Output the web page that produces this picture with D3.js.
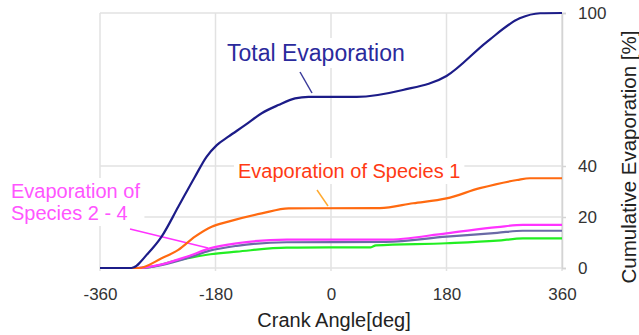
<!DOCTYPE html>
<html>
<head>
	<meta charset="utf-8">
	<title>Cumulative Evaporation</title>
	<script src="https://cdnjs.cloudflare.com/ajax/libs/d3/7.8.5/d3.min.js"></script>
	<style>
		body { margin: 0; background: #fff; }
		text { font-family: "Liberation Sans", Arial, sans-serif; }
	</style>
</head>
<body>
	<script type="text/javascript">

		// data: [crank angle, cumulative %]
		let total = [[-360,0],[-311,0],[-285,5.8],[-264,12.3],[-238,24],[-212,35.8],[-194,43.6],[-178,48.2],
			[-160,51.5],[-134,56],[-108,60.7],[-82,63.9],[-56,66.5],[-35,67.1],[40,67.1],[112,69.8],
			[180,75.3],[243,88.7],[294,97.9],[326,99.9],[360,100]];
		let species1 = [[-360,0],[-300,0],[-264,3.8],[-238,7.1],[-212,12.3],[-186,16.2],[-160,18.2],
			[-108,21.4],[-66,23.4],[76,23.5],[128,25.4],[180,27.3],[232,31.3],[290,34.5],[310,35.2],[360,35.2]];
		let species2 = [[-360,0],[-303,0],[-225,4.4],[-189,7.7],[-147,9.7],[-69,11.1],[85,11.1],
			[180,13.6],[259,16],[299,16.9],[360,16.9]];
		let species3 = [[-360,0],[-303,0],[-225,3.8],[-189,6.8],[-147,8.7],[-69,10.1],[85,10.2],
			[180,12.3],[259,13.8],[299,14.6],[360,14.6]];
		let species4 = [[-360,0],[-295,0],[-238,3.1],[-188,5.4],[-147,6.4],[-69,8.0],[62,8.1],[70,8.9],
			[180,9.7],[259,10.7],[299,11.6],[360,11.6]];

		let xTicks = [-360, -180, 0, 180, 360];
		let yTicks = [0, 20, 40, 100];

		let series = [
			{ data: species4, color: '#22ee22' },
			{ data: species3, color: '#6a6aa6' },
			{ data: species2, color: '#ff33ff' },
			{ data: species1, color: '#ff6a10' },
			{ data: total, color: '#1c1c88' }
		];

		let fontFam = '"Liberation Sans", Arial, sans-serif';

		let svg = d3.select('body').append('svg');
		svg.attr('width', 639);
		svg.attr('height', 335);

		let x = d3.scaleLinear().domain([-360, 360]).range([100, 562]);
		let y = d3.scaleLinear().domain([0, 100]).range([268, 13]);

		// grid
		svg.append('g').selectAll('line').data(xTicks).enter().append('line')
			.attr('x1', d => x(d)).attr('x2', d => x(d))
			.attr('y1', y(100)).attr('y2', y(0) + 3)
			.attr('stroke', '#e2e2e2').attr('stroke-width', 1.5);
		svg.append('g').selectAll('line').data(yTicks).enter().append('line')
			.attr('x1', x(-360)).attr('x2', x(360))
			.attr('y1', d => y(d)).attr('y2', d => y(d))
			.attr('stroke', '#e2e2e2').attr('stroke-width', 1.5);

		// right axis
		let yAxis = d3.axisRight(y).tickValues(yTicks).tickSize(4).tickPadding(12).tickFormat(d => String(d));
		let ga = svg.append('g').attr('transform', 'translate(' + x(360) + ',0)').call(yAxis);
		ga.select('.domain').attr('stroke', '#d4d4d4').attr('stroke-width', 1.5);
		ga.selectAll('.tick line').attr('stroke', '#d4d4d4').attr('stroke-width', 1.5);
		ga.selectAll('.tick text').attr('font-size', 17).attr('fill', '#333')
			.style('font-family', fontFam);

		// bottom tick labels (plain hyphen minus like the original)
		let xAxis = d3.axisBottom(x).tickValues(xTicks).tickSize(0).tickPadding(20).tickFormat(d => String(d));
		let gx = svg.append('g').attr('transform', 'translate(0,' + y(0) + ')').call(xAxis);
		gx.select('.domain').remove();
		gx.selectAll('.tick text').attr('font-size', 17).attr('fill', '#333')
			.style('font-family', fontFam);

		svg.append('text').attr('x', 334).attr('y', 327).attr('text-anchor', 'middle')
			.attr('font-size', 20).attr('fill', '#222').text('Crank Angle[deg]');
		svg.append('text').attr('transform', 'translate(636,157) rotate(-90)').attr('text-anchor', 'middle')
			.attr('font-size', 20.5).attr('fill', '#222').text('Cumulative Evaporation [%]');

		// annotation boxes (white, hide grid)
		function label(lines, lx, ly, size, lh, color) {
			let g = svg.append('g');
			let t = g.append('text').attr('font-size', size).attr('fill', color);
			lines.forEach((s, i) => {
				t.append('tspan').attr('x', lx).attr('y', ly + i * lh).text(s);
			});
			let b = t.node().getBBox();
			g.insert('rect', 'text').attr('x', b.x - 4).attr('y', b.y - 2)
				.attr('width', b.width + 8).attr('height', b.height + 4).attr('fill', '#fff');
		}
		label(['Total Evaporation'], 227, 61, 23, 0, '#2a2a9c');
		label(['Evaporation of Species 1'], 238, 178, 20, 0, '#ff3a14');
		label(['Evaporation of', 'Species 2 - 4'], 11, 198, 20, 22, '#ff55ff');

		// leader lines
		let leaders = [
			{ a: [300, 72], b: [312, 93], c: '#3a3a9a' },
			{ a: [317, 190], b: [328, 206], c: '#ffaa30' },
			{ a: [130, 229], b: [208, 248], c: '#ff33ff' }
		];
		svg.append('g').selectAll('line').data(leaders).enter().append('line')
			.attr('x1', d => d.a[0]).attr('y1', d => d.a[1])
			.attr('x2', d => d.b[0]).attr('y2', d => d.b[1])
			.attr('stroke', d => d.c).attr('stroke-width', 1.5);

		// curves
		let line = d3.line().x(d => x(d[0])).y(d => y(d[1])).curve(d3.curveMonotoneX);
		svg.append('g').selectAll('path').data(series).enter().append('path')
			.attr('d', d => line(d.data))
			.attr('fill', 'none')
			.attr('stroke', d => d.color)
			.attr('stroke-width', 2.2);

	</script>
</body>
</html>
